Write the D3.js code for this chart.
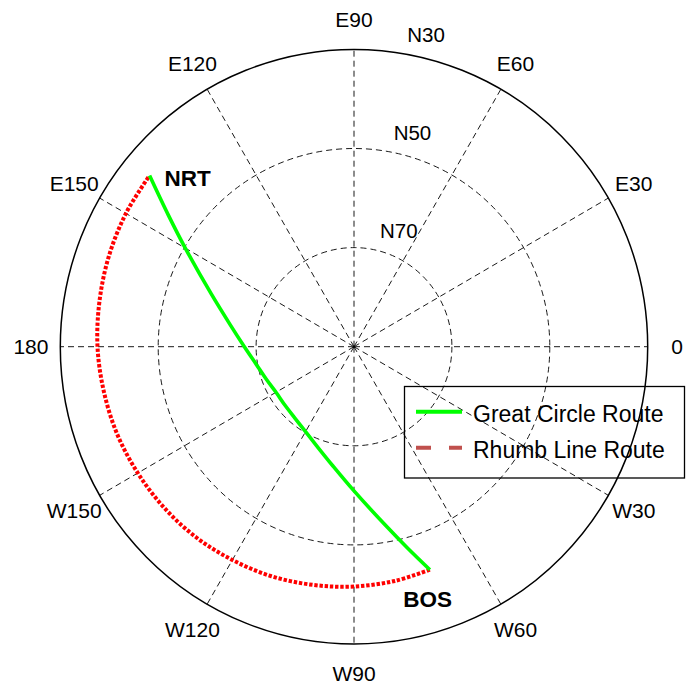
<!DOCTYPE html>
<html>
<head>
<meta charset="utf-8">
<script src="https://cdn.jsdelivr.net/npm/d3@7"></script>
<style>
  html, body { margin: 0; padding: 0; background: #fff; }
  svg { display: block; }
</style>
</head>
<body>
<svg id="chart" width="686" height="685"></svg>
<script>
// Polar grid: spokes every 30 degrees of longitude, rings by latitude
const spokeAngles = [0, 30, 60, 90, 120, 150, 180, 210, 240, 270, 300, 330];
const spokeLabels = ["0", "E30", "E60", "E90", "E120", "E150", "180", "W150", "W120", "W90", "W60", "W30"];
const ringLats = [70, 50, 30];
const ringLabels = ["N70", "N50", "N30"];

// Great circle route, Boston -> Tokyo Narita (longitude, latitude in degrees)
const greatCircleLon = [-71.0, -75, -80, -90, -100, -110, -120, -130, -140, -150, -160, -170, -180, 170, 160, 150, 145, 140.4];
const greatCircleLat = [42.4, 48.0, 53.5, 60.9, 65.5, 68.4, 70.2, 71.2, 71.6, 71.6, 70.9, 69.7, 67.6, 64.3, 59.0, 50.2, 43.7, 35.8];

// Rhumb line route (constant heading), Boston -> Tokyo Narita
const rhumbLon = [-71.0, -80, -90, -100, -110, -120, -130, -140, -150, -160, -170, -180, 170, 160, 150, 140.4];
const rhumbLat = [42.4, 42.0, 41.6, 41.2, 40.7, 40.3, 39.8, 39.4, 39.0, 38.5, 38.1, 37.6, 37.2, 36.7, 36.2, 35.8];

const airportNames = ["BOS", "NRT"];
const airportLon = [-71.0, 140.4];
const airportLat = [42.4, 35.8];

const legendLabels = ["Great Circle Route", "Rhumb Line Route"];

// ---- layout ----
const svg = d3.select("#chart");
const cx = 354, cy = 346.7;
const font = "'Liberation Sans', Arial, Helvetica, sans-serif";

// radial scales (latitude -> pixels), slightly different in x and y
const rX = d3.scaleLinear().domain([90, 30]).range([0, 293.7]);
const rY = d3.scaleLinear().domain([90, 30]).range([0, 297.3]);
const ang = d3.scaleLinear().domain([0, 180]).range([0, Math.PI]);

const px = (lon, lat) => cx + rX(lat) * Math.cos(ang(lon));
const py = (lon, lat) => cy - rY(lat) * Math.sin(ang(lon));

const grid = svg.append("g");

// dashed spokes from the pole outwards
grid.selectAll("line.spoke")
  .data(spokeAngles)
  .join("line")
  .attr("class", "spoke")
  .attr("x1", cx).attr("y1", cy)
  .attr("x2", d => px(d, 30)).attr("y2", d => py(d, 30))
  .attr("stroke", "#000")
  .attr("stroke-width", 0.9)
  .attr("stroke-dasharray", "6,4");

// dashed inner latitude rings
grid.selectAll("ellipse.ring")
  .data(ringLats.slice(0, 2))
  .join("ellipse")
  .attr("class", "ring")
  .attr("cx", cx).attr("cy", cy)
  .attr("rx", d => rX(d)).attr("ry", d => rY(d))
  .attr("fill", "none")
  .attr("stroke", "#000")
  .attr("stroke-width", 0.9)
  .attr("stroke-dasharray", "6,4");

// solid outer ring
grid.append("ellipse")
  .attr("cx", cx).attr("cy", cy)
  .attr("rx", rX(ringLats[2])).attr("ry", rY(ringLats[2]))
  .attr("fill", "none")
  .attr("stroke", "#000")
  .attr("stroke-width", 1.5);

// ring labels placed along the 82 degree direction
grid.selectAll("text.ringlab")
  .data(ringLats)
  .join("text")
  .attr("class", "ringlab")
  .attr("x", d => px(82, d - 1) + 11.7)
  .attr("y", d => py(82, d - 1) - 5.5)
  .attr("font-family", font)
  .attr("font-size", 20.5)
  .attr("fill", "#000")
  .text((d, i) => ringLabels[i]);

// spoke labels outside the outer ring
grid.selectAll("text.spokelab")
  .data(spokeAngles)
  .join("text")
  .attr("class", "spokelab")
  .attr("x", d => cx + 1.1 * rX(30) * Math.cos(ang(d)))
  .attr("y", d => cy - 1.1 * rY(30) * Math.sin(ang(d)))
  .attr("dy", "0.35em")
  .attr("text-anchor", "middle")
  .attr("font-family", font)
  .attr("font-size", 21)
  .attr("fill", "#000")
  .text((d, i) => spokeLabels[i]);

// ---- routes ----
const routeLine = d3.line()
  .x(d => px(d[0], d[1]))
  .y(d => py(d[0], d[1]))
  .curve(d3.curveCatmullRom.alpha(0.5));

const gcPoints = greatCircleLon.map((lon, i) => [lon, greatCircleLat[i]]);
const rlPoints = rhumbLon.map((lon, i) => [lon, rhumbLat[i]]);

svg.append("path")
  .attr("d", routeLine(rlPoints))
  .attr("fill", "none")
  .attr("stroke", "#ff0000")
  .attr("stroke-width", 4)
  .attr("stroke-dasharray", "3.4,1.8");

svg.append("path")
  .attr("d", routeLine(gcPoints))
  .attr("fill", "none")
  .attr("stroke", "#00ff00")
  .attr("stroke-width", 3.6)
  .attr("stroke-linejoin", "round");

// airport labels
const labelOffsets = [[-26.7, 37], [15, 10.5]];
svg.selectAll("text.airport")
  .data(airportNames)
  .join("text")
  .attr("class", "airport")
  .attr("x", (d, i) => px(airportLon[i], airportLat[i]) + labelOffsets[i][0])
  .attr("y", (d, i) => py(airportLon[i], airportLat[i]) + labelOffsets[i][1])
  .attr("font-family", font)
  .attr("font-size", 22.5)
  .attr("font-weight", "bold")
  .attr("fill", "#000")
  .text(d => d);

// ---- legend ----
const legend = svg.append("g");
legend.append("rect")
  .attr("x", 404.5).attr("y", 386.5)
  .attr("width", 280).attr("height", 91.5)
  .attr("fill", "none")
  .attr("stroke", "#000")
  .attr("stroke-width", 1.3);

const legendStyles = [
  { color: "#00ff00", dash: null },
  { color: "#c0504d", dash: "15,18" }
];
const legendRows = [411.7, 447.7];

legend.selectAll("line.sample")
  .data(legendLabels)
  .join("line")
  .attr("class", "sample")
  .attr("x1", 416).attr("x2", 462)
  .attr("y1", (d, i) => legendRows[i]).attr("y2", (d, i) => legendRows[i])
  .attr("stroke", (d, i) => legendStyles[i].color)
  .attr("stroke-width", 4)
  .attr("stroke-dasharray", (d, i) => legendStyles[i].dash);

legend.selectAll("text.lab")
  .data(legendLabels)
  .join("text")
  .attr("class", "lab")
  .attr("x", 473)
  .attr("y", (d, i) => legendRows[i] + 10.3)
  .attr("font-family", font)
  .attr("font-size", 23)
  .attr("fill", "#000")
  .text(d => d);
</script>
</body>
</html>
